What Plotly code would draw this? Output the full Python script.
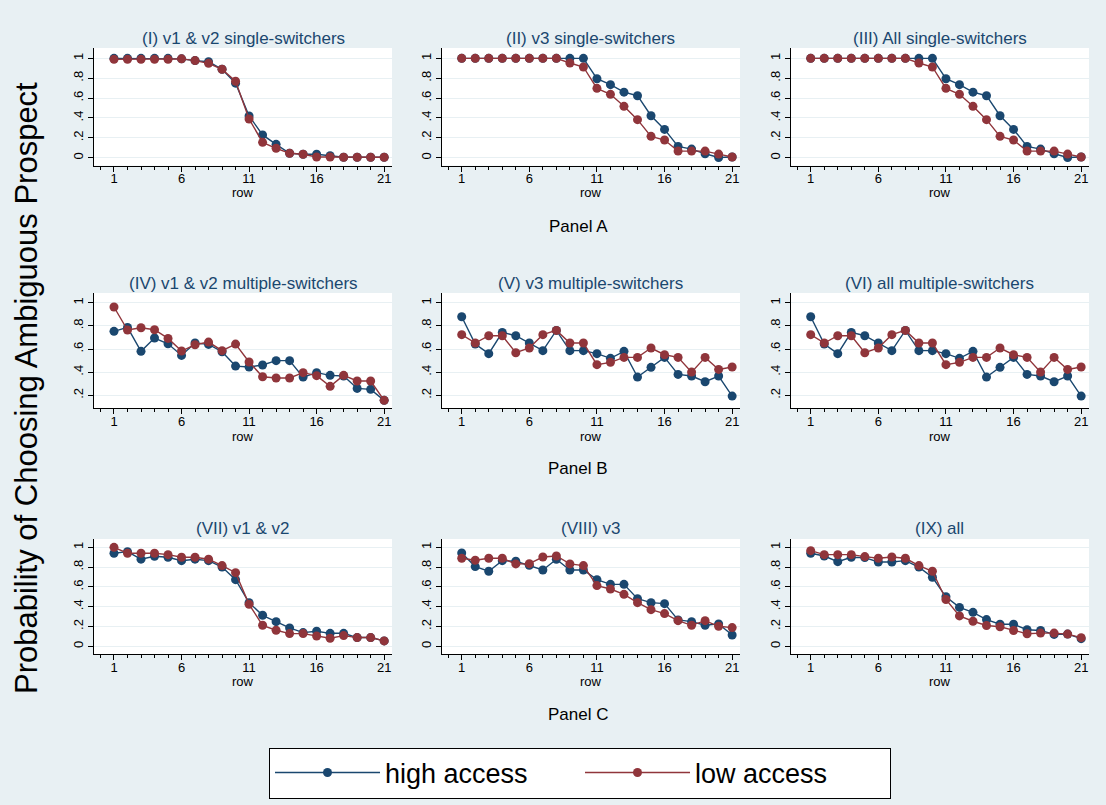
import plotly.graph_objects as go

# x positions (rows of the choice list)
rows = list(range(1, 22))

panel_titles = [
    "(I) v1 & v2 single-switchers", "(II) v3 single-switchers", "(III) All single-switchers",
    "(IV) v1 & v2 multiple-switchers", "(V) v3 multiple-switchers", "(VI) all multiple-switchers",
    "(VII) v1 & v2", "(VIII) v3", "(IX) all",
]
panel_labels = ["Panel A", "Panel B", "Panel C"]

# Probability of choosing the ambiguous prospect, by row
high_I = [1.0, 1.0, 1.0, 1.0, 1.0, 0.995, 0.977, 0.966, 0.89, 0.75, 0.42, 0.23, 0.135, 0.045, 0.035, 0.035, 0.02, 0.005, 0.005, 0.005, 0.005]
low_I = [0.99, 0.99, 0.99, 0.99, 0.99, 0.995, 0.977, 0.95, 0.89, 0.77, 0.39, 0.155, 0.095, 0.045, 0.035, 0.007, 0.007, 0.005, 0.005, 0.005, 0.005]

high_II = [1.0, 1.0, 1.0, 1.0, 1.0, 1.0, 1.0, 1.0, 1.0, 1.0, 0.795, 0.735, 0.66, 0.624, 0.423, 0.285, 0.114, 0.087, 0.04, 0.003, 0.007]
low_II = [1.0, 1.0, 1.0, 1.0, 1.0, 1.0, 1.0, 1.0, 0.953, 0.913, 0.698, 0.638, 0.517, 0.383, 0.215, 0.178, 0.067, 0.067, 0.067, 0.037, 0.007]

high_III = [1.0, 1.0, 1.0, 1.0, 1.0, 1.0, 1.0, 1.0, 1.0, 1.0, 0.795, 0.735, 0.66, 0.624, 0.423, 0.285, 0.114, 0.087, 0.04, 0.003, 0.007]
low_III = [1.0, 1.0, 1.0, 1.0, 1.0, 1.0, 1.0, 1.0, 0.953, 0.913, 0.698, 0.638, 0.517, 0.383, 0.215, 0.178, 0.067, 0.067, 0.067, 0.037, 0.007]

high_IV = [0.753, 0.787, 0.58, 0.695, 0.646, 0.545, 0.652, 0.64, 0.577, 0.453, 0.445, 0.462, 0.50, 0.50, 0.358, 0.396, 0.373, 0.367, 0.26, 0.252, 0.157]
low_IV = [0.963, 0.764, 0.784, 0.767, 0.692, 0.583, 0.637, 0.66, 0.586, 0.643, 0.488, 0.361, 0.35, 0.35, 0.396, 0.37, 0.278, 0.373, 0.324, 0.324, 0.157]

high_V = [0.879, 0.643, 0.56, 0.744, 0.715, 0.652, 0.586, 0.761, 0.586, 0.586, 0.56, 0.52, 0.58, 0.358, 0.442, 0.528, 0.381, 0.367, 0.318, 0.367, 0.194]
low_V = [0.724, 0.652, 0.715, 0.715, 0.568, 0.609, 0.724, 0.761, 0.652, 0.652, 0.465, 0.485, 0.528, 0.528, 0.609, 0.551, 0.528, 0.401, 0.528, 0.424, 0.445]

high_VI = [0.879, 0.643, 0.56, 0.744, 0.715, 0.652, 0.586, 0.761, 0.586, 0.586, 0.56, 0.52, 0.58, 0.358, 0.442, 0.528, 0.381, 0.367, 0.318, 0.367, 0.194]
low_VI = [0.724, 0.652, 0.715, 0.715, 0.568, 0.609, 0.724, 0.761, 0.652, 0.652, 0.465, 0.485, 0.528, 0.528, 0.609, 0.551, 0.528, 0.401, 0.528, 0.424, 0.445]

high_VII = [0.94, 0.956, 0.88, 0.91, 0.90, 0.865, 0.88, 0.865, 0.80, 0.673, 0.44, 0.313, 0.249, 0.185, 0.138, 0.152, 0.131, 0.131, 0.088, 0.088, 0.054]
low_VII = [1.0, 0.94, 0.94, 0.94, 0.926, 0.90, 0.90, 0.88, 0.815, 0.744, 0.424, 0.212, 0.162, 0.128, 0.128, 0.104, 0.081, 0.108, 0.088, 0.088, 0.054]

high_VIII = [0.943, 0.805, 0.758, 0.865, 0.859, 0.818, 0.771, 0.879, 0.771, 0.771, 0.673, 0.626, 0.626, 0.481, 0.441, 0.431, 0.266, 0.249, 0.212, 0.226, 0.114]
low_VIII = [0.889, 0.869, 0.889, 0.889, 0.832, 0.835, 0.902, 0.912, 0.832, 0.815, 0.613, 0.579, 0.525, 0.441, 0.37, 0.33, 0.259, 0.212, 0.259, 0.202, 0.189]

high_IX = [0.94, 0.912, 0.855, 0.899, 0.896, 0.852, 0.852, 0.865, 0.80, 0.697, 0.50, 0.393, 0.343, 0.27, 0.223, 0.223, 0.167, 0.16, 0.12, 0.123, 0.077]
low_IX = [0.966, 0.926, 0.926, 0.926, 0.906, 0.889, 0.902, 0.889, 0.815, 0.758, 0.473, 0.307, 0.253, 0.21, 0.197, 0.16, 0.127, 0.133, 0.133, 0.123, 0.087]

high_series = [high_I, high_II, high_III, high_IV, high_V, high_VI, high_VII, high_VIII, high_IX]
low_series = [low_I, low_II, low_III, low_IV, low_V, low_VI, low_VII, low_VIII, low_IX]

series_names = ["high access", "low access"]
tick_vals_full = [0, 0.2, 0.4, 0.6, 0.8, 1]
tick_text_full = ["0", ".2", ".4", ".6", ".8", "1"]
tick_vals_mid = [0.2, 0.4, 0.6, 0.8, 1]
tick_text_mid = [".2", ".4", ".6", ".8", "1"]

# ---- styling / layout ----
W, H = 1106, 805
BG = "#e8f0f3"
GRID = "#e8f0f3"
NAVY = "#1a476f"
MAROON = "#90353b"
FONT = "Liberation Sans, Arial, sans-serif"

col_px = [(94, 392), (441.7, 740), (790.7, 1089)]
row_px = [(48, 165.7), (293, 408), (539, 654)]
y_ranges = [(-0.08, 1.104), (0.091, 1.084), (-0.078, 1.084)]
title_y_px = [38.3, 283.3, 528.3]
row_label_y_px = [192, 436.5, 681]
panel_label_y_px = [226, 468, 714]

fig = go.Figure()
layout = dict(
    width=W, height=H,
    margin=dict(l=0, r=0, t=0, b=0),
    paper_bgcolor=BG, plot_bgcolor="white",
    font=dict(family=FONT, color="black"),
    showlegend=True,
)
annotations = []

for i in range(9):
    r, c = divmod(i, 3)
    n = i + 1
    xa = "xaxis" if n == 1 else f"xaxis{n}"
    ya = "yaxis" if n == 1 else f"yaxis{n}"
    xref = "x" if n == 1 else f"x{n}"
    yref = "y" if n == 1 else f"y{n}"
    x0, x1 = col_px[c]
    t0, t1 = row_px[r]
    layout[xa] = dict(
        domain=[x0 / W, x1 / W], anchor=yref,
        range=[-0.48, 21.58], tickmode="linear", tick0=1, dtick=5,
        ticks="outside", ticklen=5, tickwidth=1, tickcolor="black",
        ticklabelstandoff=-4,
        minor=dict(ticks="outside", ticklen=3, tick0=0, dtick=1, tickcolor="black", showgrid=False),
        showline=True, linecolor="black", linewidth=1,
        showgrid=False, zeroline=False, automargin=False,
        tickfont=dict(size=13, family=FONT, color="black"),
        fixedrange=True,
    )
    tv, tt = (tick_vals_mid, tick_text_mid) if r == 1 else (tick_vals_full, tick_text_full)
    layout[ya] = dict(
        domain=[1 - t1 / H, 1 - t0 / H], anchor=xref,
        range=list(y_ranges[r]), tickmode="array", tickvals=tv, ticktext=tt,
        tickangle=-90, ticks="outside", ticklen=5, tickwidth=1, tickcolor="black",
        showline=True, linecolor="black", linewidth=1,
        showgrid=True, gridcolor=GRID, gridwidth=1, zeroline=False, automargin=False,
        tickfont=dict(size=13, family=FONT, color="black"),
        fixedrange=True,
    )
    for vals, name, color in ((high_series[i], series_names[0], NAVY),
                              (low_series[i], series_names[1], MAROON)):
        fig.add_trace(go.Scatter(
            x=rows, y=vals, mode="lines+markers", name=name,
            line=dict(color=color, width=1.4),
            marker=dict(color=color, size=9),
            xaxis=xref, yaxis=yref, showlegend=(i == 0),
            cliponaxis=False,
        ))
    xc = (x0 + x1) / 2 / W
    annotations.append(dict(text=panel_titles[i], x=xc, y=1 - title_y_px[r] / H,
                            xref="paper", yref="paper", showarrow=False,
                            xanchor="center", yanchor="middle",
                            font=dict(size=17, color=NAVY, family=FONT)))
    annotations.append(dict(text="row", x=xc, y=1 - row_label_y_px[r] / H,
                            xref="paper", yref="paper", showarrow=False,
                            xanchor="center", yanchor="middle",
                            font=dict(size=13, color="black", family=FONT)))

for r in range(3):
    annotations.append(dict(text=panel_labels[r], x=578 / W, y=1 - panel_label_y_px[r] / H,
                            xref="paper", yref="paper", showarrow=False,
                            xanchor="center", yanchor="middle",
                            font=dict(size=17, color="black", family=FONT)))

annotations.append(dict(text="Probability of Choosing Ambiguous Prospect",
                        x=26 / W, y=1 - 388 / H, xref="paper", yref="paper",
                        showarrow=False, textangle=-90, xanchor="center", yanchor="middle",
                        font=dict(size=31, color="black", family=FONT)))

layout["annotations"] = annotations
layout["legend"] = dict(
    orientation="h", x=580 / W, y=1 - 773 / H, xanchor="center", yanchor="middle",
    bgcolor="white", bordercolor="black", borderwidth=1,
    font=dict(size=27, color="black", family=FONT),
    entrywidth=190, entrywidthmode="pixels", itemwidth=105,
    tracegroupgap=0,
)

fig.update_layout(**layout)
fig.write_html("out.html")
